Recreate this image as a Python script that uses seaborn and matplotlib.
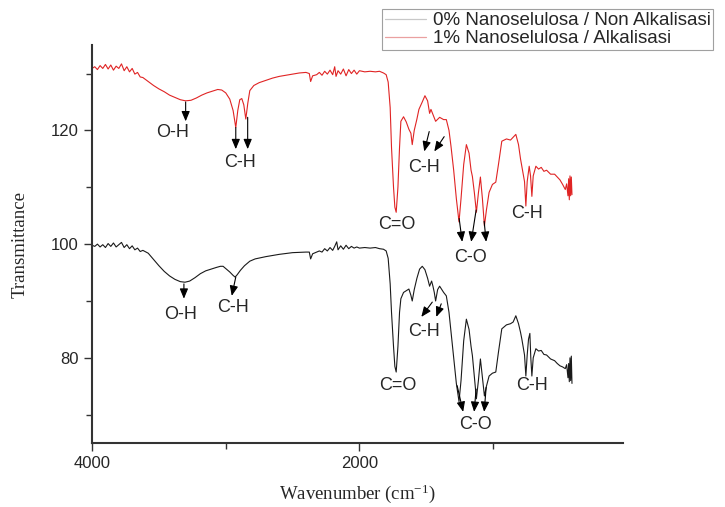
import matplotlib
matplotlib.use("Agg")
import matplotlib.pyplot as plt
import seaborn as sns
import pandas as pd
from matplotlib.ticker import MultipleLocator
from matplotlib.lines import Line2D

# ---------------- data ----------------
series_names = ["0% Nanoselulosa / Non Alkalisasi", "1% Nanoselulosa / Alkalisasi"]

wn_red = [4000, 3980, 3960, 3940, 3920, 3900, 3880, 3860, 3840, 3820, 3800, 3780, 3760, 3740, 3720,
          3700, 3680, 3660, 3640, 3620, 3580, 3540, 3500, 3460, 3420, 3380, 3340, 3300, 3260, 3220,
          3180, 3140, 3100, 3060, 3030, 3000, 2970, 2945, 2925, 2910, 2895, 2880, 2865, 2850, 2835,
          2820, 2790, 2750, 2700, 2650, 2600, 2550, 2500, 2450, 2400, 2375, 2365, 2350, 2320, 2300,
          2280, 2260, 2240, 2220, 2200, 2185, 2175, 2160, 2140, 2120, 2100, 2080, 2060, 2040, 2020,
          2000, 1960, 1920, 1880, 1850, 1820, 1800, 1785, 1770, 1760, 1745, 1735, 1725, 1712, 1700,
          1690, 1670, 1650, 1630, 1615, 1605, 1590, 1570, 1555, 1530, 1510, 1490, 1475, 1465, 1450,
          1430, 1400, 1370, 1350, 1330, 1315, 1295, 1275, 1255, 1240, 1220, 1200, 1180, 1165, 1155,
          1140, 1125, 1110, 1095, 1080, 1065, 1050, 1030, 1005, 980, 960, 935, 900, 870, 850,
          830, 810, 795, 785, 765, 755, 745, 730, 720, 710, 700, 680, 660, 640, 620,
          600, 570, 540, 520, 500, 480, 460, 450, 440, 435, 430, 425, 420, 415, 410]
t_red = [130.9, 131.2, 130.7, 131.4, 130.9, 131.6, 130.8, 131.5, 130.6, 131.3, 130.9, 131.7, 130.5, 131.2, 130.3,
         130.9, 129.9, 130.2, 129.4, 129.3, 128.6, 127.9, 127.3, 126.8, 126.2, 125.8, 125.4, 125.2, 125.3, 125.7,
         126.2, 126.6, 126.9, 127.2, 127.1, 126.6, 125.5, 123.5, 120.5, 123.5, 125.4, 125.6, 124.5, 122.0, 124.8,
         127.0, 127.9, 128.4, 128.8, 129.2, 129.5, 129.7, 129.9, 130.1, 130.2, 130.0, 128.6, 129.6, 129.8, 130.2,
         129.7, 130.4, 129.9, 130.6, 129.8, 131.2, 129.5, 130.5, 129.9, 130.8, 129.6, 130.7, 130.0, 130.6, 129.9,
         130.5, 130.3, 130.4, 130.3, 130.4, 130.1, 129.8, 128.5, 124.0, 117.0, 110.0, 106.5, 105.6, 110.0, 117.0,
         121.6, 122.4, 121.5, 120.2, 119.5, 117.5, 120.0, 122.0, 123.7, 125.0, 126.1, 125.2, 123.0, 123.7, 122.8,
         121.6, 122.3, 121.9, 121.9, 120.0, 117.2, 113.0, 108.0, 103.9, 108.0, 114.0, 117.5, 116.0, 113.0, 111.9,
         109.0, 105.6, 109.0, 111.8, 108.0, 103.2, 106.0, 109.1, 110.5, 110.9, 114.0, 118.1, 118.5, 118.3, 118.8,
         119.3, 117.5, 115.0, 113.7, 111.0, 106.7, 111.0, 113.7, 112.0, 108.4, 112.0, 113.7, 113.2, 113.5, 112.8,
         113.0, 112.3, 112.3, 111.8, 111.3, 110.5, 109.6, 110.6, 108.5, 111.5, 107.8, 112.0, 108.5, 111.8, 108.7]

wn_black = [4000, 3980, 3960, 3940, 3920, 3900, 3880, 3860, 3840, 3820, 3800, 3780, 3760, 3740, 3720,
            3700, 3680, 3660, 3640, 3620, 3580, 3540, 3500, 3460, 3420, 3380, 3340, 3305, 3270, 3230,
            3190, 3150, 3110, 3070, 3040, 3020, 3000, 2970, 2945, 2930, 2915, 2890, 2860, 2820, 2780,
            2700, 2600, 2500, 2400, 2375, 2365, 2350, 2300, 2280, 2260, 2240, 2220, 2200, 2185, 2170,
            2160, 2140, 2120, 2100, 2080, 2060, 2040, 2020, 2000, 1960, 1920, 1880, 1850, 1820, 1800,
            1785, 1770, 1760, 1745, 1735, 1725, 1712, 1700, 1690, 1670, 1650, 1630, 1615, 1605, 1590,
            1570, 1550, 1530, 1510, 1490, 1475, 1460, 1450, 1440, 1430, 1415, 1400, 1370, 1350, 1330,
            1315, 1295, 1275, 1255, 1240, 1220, 1200, 1180, 1165, 1155, 1140, 1125, 1110, 1095, 1080,
            1065, 1050, 1030, 1005, 980, 960, 935, 900, 870, 850, 830, 810, 795, 785, 765,
            755, 745, 735, 725, 718, 710, 700, 680, 660, 640, 620, 600, 570, 540, 520,
            500, 480, 460, 450, 440, 435, 430, 425, 420, 415, 410]
t_black = [99.8, 99.6, 100.0, 99.5, 99.9, 99.4, 100.1, 99.6, 100.2, 99.5, 99.9, 100.3, 99.4, 99.9, 99.2,
           99.7, 99.0, 99.3, 98.7, 98.9, 98.4, 97.3, 96.2, 95.2, 94.4, 93.8, 93.4, 93.3, 93.5, 94.1,
           94.8, 95.3, 95.6, 95.9, 96.1, 96.1, 95.7, 95.1, 94.5, 94.2, 94.6, 95.4, 96.2, 97.0, 97.4,
           97.8, 98.2, 98.5, 98.6, 98.6, 97.4, 98.3, 98.8, 98.6, 99.2, 98.8, 99.4, 98.9, 99.6, 100.4,
           99.0, 99.7, 99.1, 99.8, 99.2, 99.6, 99.3, 99.5, 99.3, 99.4, 99.3, 99.4, 99.2, 99.1, 98.8,
           97.5, 93.0, 88.0, 82.0, 78.5, 77.5, 82.0, 88.0, 90.4, 91.5, 91.8, 92.1, 91.0, 90.0, 92.0,
           94.0, 95.6, 96.1, 95.5, 94.0, 92.6, 93.5, 92.6, 91.5, 90.0, 92.0, 92.6, 91.5, 90.9, 88.0,
           84.6, 80.0, 75.5, 72.3, 76.0, 83.0, 86.8, 85.0, 82.0, 80.4, 76.5, 72.8, 76.0, 79.8, 76.5,
           73.3, 75.0, 76.8, 77.3, 77.5, 81.0, 85.1, 85.8, 86.0, 86.3, 87.4, 86.0, 84.5, 83.3, 80.5,
           76.8, 80.5, 83.3, 84.3, 80.0, 76.8, 80.0, 81.6, 81.2, 81.3, 80.6, 80.5, 79.8, 79.5, 79.0,
           78.6, 78.4, 78.1, 78.8, 76.5, 79.0, 75.8, 80.0, 76.0, 80.3, 75.5]

x_ticks = [4000, 2000]
y_ticks = [80, 100, 120]

# ---------------- build table ----------------
df = pd.concat([
    pd.DataFrame({"wn": wn_black, "T": t_black, "series": series_names[0]}),
    pd.DataFrame({"wn": wn_red, "T": t_red, "series": series_names[1]}),
], ignore_index=True)

sns.set_style("ticks")
plt.rcParams["font.family"] = ["Liberation Sans", "DejaVu Sans"]
plt.rcParams["mathtext.fontset"] = "custom"
plt.rcParams["mathtext.rm"] = "Liberation Serif"
plt.rcParams["mathtext.it"] = "Liberation Serif:italic"

fig = plt.figure(figsize=(7.25, 5.07), dpi=100)
ax = fig.add_axes([0.127, 0.126, 0.732, 0.785])

palette = {series_names[0]: "#1a1a1a", series_names[1]: "#e02424"}
sns.lineplot(data=df, x="wn", y="T", hue="series", palette=palette, sort=False,
             estimator=None, units="series", linewidth=0.8, legend=False, ax=ax)

ax.set_xlim(4000, 30)
ax.set_ylim(65, 135)
ax.set_xticks(x_ticks)
ax.xaxis.set_minor_locator(MultipleLocator(1000))
ax.set_yticks(y_ticks)
ax.yaxis.set_minor_locator(MultipleLocator(10))
ax.tick_params(which="major", length=6, width=1.0, labelsize=12, color="#333333")
ax.tick_params(which="minor", length=4, width=1.0, color="#333333")
for s in ["top", "right"]:
    ax.spines[s].set_visible(False)
for s in ["left", "bottom"]:
    ax.spines[s].set_linewidth(1.5)
    ax.spines[s].set_color("#333333")

serif = ["Liberation Serif", "DejaVu Serif"]
ax.set_xlabel("Wavenumber (cm$^{\\mathrm{-1}}$)", fontsize=13.5, family=serif, labelpad=8)
ax.set_ylabel("Transmittance", fontsize=13.5, family=serif, labelpad=16)

# ---------------- annotations ----------------
lab_fs = 13
aprops = dict(arrowstyle="-|>,head_length=0.6,head_width=0.25", lw=0.8, color="black",
              shrinkA=0, shrinkB=0)

def arrow(x0, y0, x1, y1):
    ax.annotate("", xy=(x1, y1), xytext=(x0, y0), arrowprops=aprops)

def label(x, y, s):
    ax.text(x, y, s, fontsize=lab_fs, ha="center", va="center")

# red spectrum
arrow(3300, 125.0, 3300, 121.6); label(3396, 119.6, "O-H")
arrow(2925, 120.5, 2925, 116.7); arrow(2836, 122.3, 2836, 116.7); label(2896, 114.4, "C-H")
label(1724, 103.5, "C=O")
arrow(1478, 119.8, 1515, 116.3); arrow(1366, 118.9, 1440, 116.3); label(1515, 113.5, "C-H")
arrow(1254, 104.5, 1231, 100.4); arrow(1127, 106.0, 1164, 100.4); arrow(1067, 104.0, 1052, 100.4)
label(1172, 97.7, "C-O")
label(746, 105.3, "C-H")

# black spectrum
arrow(3313, 93.0, 3313, 90.4); label(3336, 87.7, "O-H")
arrow(2925, 94.2, 2955, 90.9); label(2948, 88.9, "C-H")
label(1716, 75.1, "C=O")
arrow(1455, 89.8, 1537, 87.2); arrow(1388, 89.5, 1425, 87.2); label(1515, 84.6, "C-H")
arrow(1269, 75.1, 1224, 70.5); arrow(1127, 74.5, 1142, 70.5); arrow(1052, 74.8, 1067, 70.5)
label(1134, 68.2, "C-O")
label(709, 75.1, "C-H")

# ---------------- legend ----------------
handles = [Line2D([], [], color="#c8c8c8", lw=0.9), Line2D([], [], color="#eaa0a0", lw=0.9)]
leg = fig.legend(handles, series_names, loc="upper left", bbox_to_anchor=(0.527, 0.982),
                 fontsize=13.5, frameon=True, fancybox=False, handlelength=2.2,
                 handletextpad=0.35, labelspacing=0.05, borderpad=0.15, borderaxespad=0)
leg.get_frame().set_edgecolor("#888888")
leg.get_frame().set_linewidth(0.8)

fig.savefig("out.png", dpi=100)
